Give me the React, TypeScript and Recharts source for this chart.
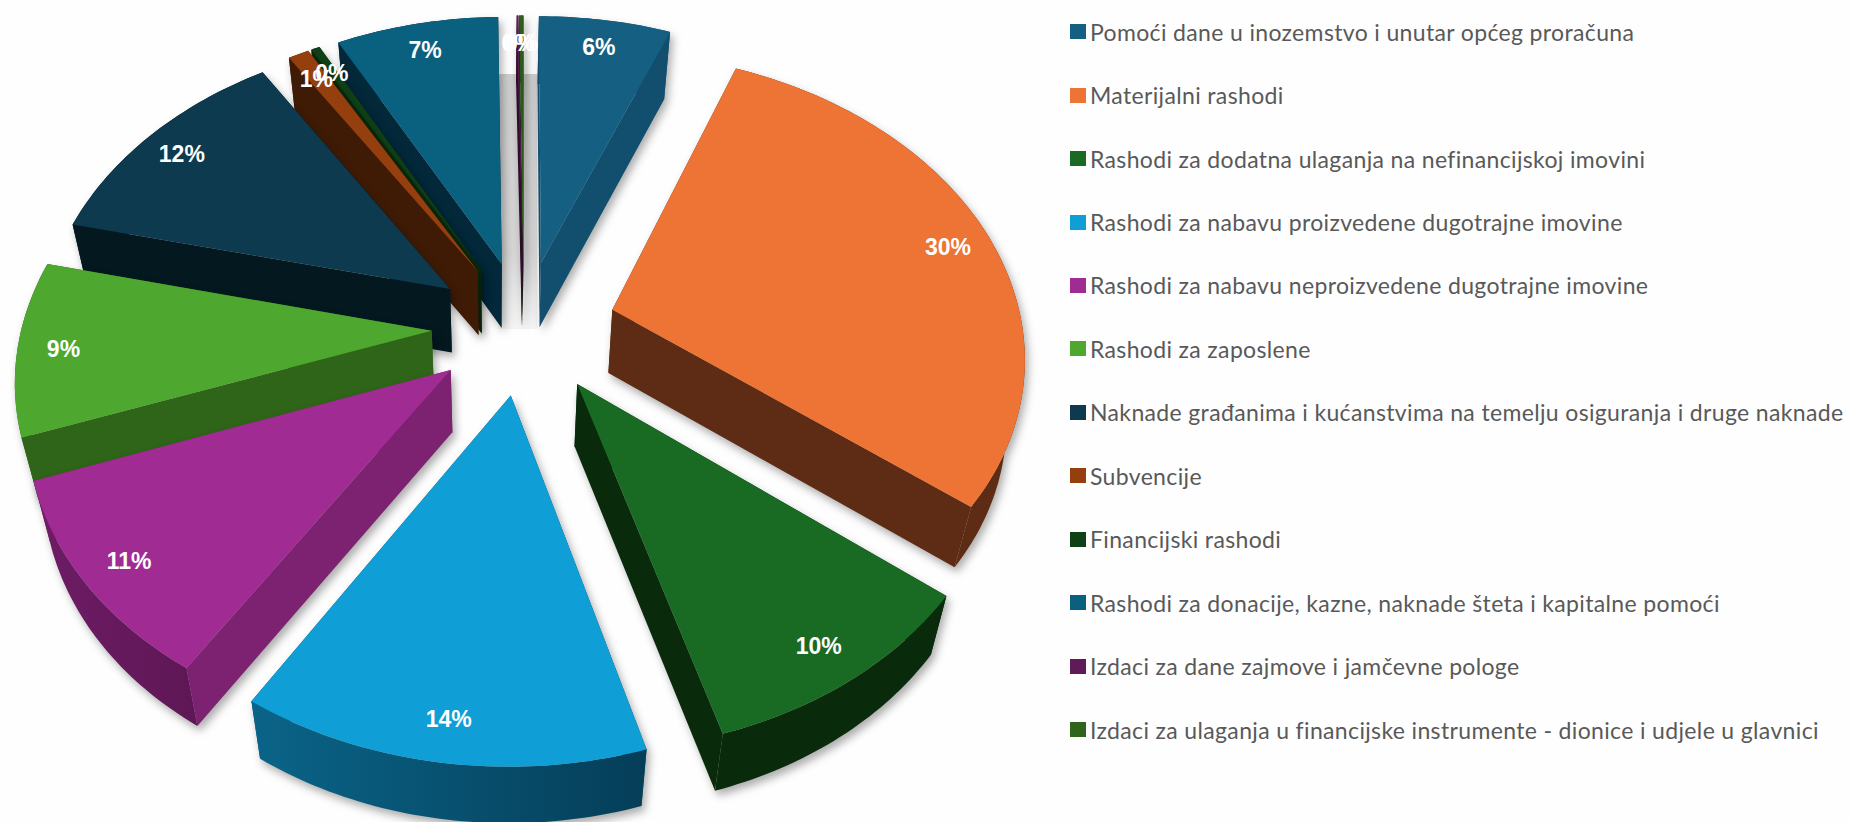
import React from "react";
import { PieChart, Pie, Legend } from "recharts";

const categories = [
  "Pomoći dane u inozemstvo i unutar općeg proračuna",
  "Materijalni rashodi",
  "Rashodi za dodatna ulaganja na nefinancijskoj imovini",
  "Rashodi za nabavu proizvedene dugotrajne imovine",
  "Rashodi za nabavu neproizvedene dugotrajne imovine",
  "Rashodi za zaposlene",
  "Naknade građanima i kućanstvima na temelju osiguranja i druge naknade",
  "Subvencije",
  "Financijski rashodi",
  "Rashodi za donacije, kazne, naknade šteta i kapitalne pomoći",
  "Izdaci za dane zajmove i jamčevne pologe",
  "Izdaci za ulaganja u financijske instrumente - dionice i udjele u glavnici",
];

// procjena s grafikona, postoci
const shares = [6.05, 29.5, 9.92, 13.5, 10.5, 9.24, 12.2, 0.96, 0.4, 7.45, 0.08, 0.2];

const topColors = ["#156082", "#ED7434", "#196B24", "#0F9ED5", "#A02B93", "#4EA72E", "#0D3A4E", "#953F0E", "#0F4016", "#09607F", "#601A58", "#2F641C"];
const sideColors = ["#124F6E", "#5E2B14", "#0A2A0C", "#06506F", "#7D2270", "#2F6518", "#041820", "#3F1B06", "#0A2A0C", "#02283A", "#2E0C2A", "#16300D"];
const rimFrom = ["#124F6E", "#5E2B14", "#0A2A0C", "#0A6488", "#6E1C66", "#2F6518", "#041820", "#3F1B06", "#0A2A0C", "#02283A", "#2E0C2A", "#16300D"];
const rimTo = ["#124F6E", "#5E2B14", "#0A2A0C", "#053E58", "#5E1755", "#2F6518", "#041820", "#3F1B06", "#0A2A0C", "#02283A", "#2E0C2A", "#16300D"];

const rows = categories.map((name, i) => ({
  name,
  value: shares[i],
  fill: topColors[i],
  side: sideColors[i],
  from: rimFrom[i],
  to: rimTo[i],
}));

// obrnuti redoslijed i smjer: kriške se crtaju od straga prema naprijed
const drawRows = [...rows].reverse();

const RAD = Math.PI / 180;
const EXPLODE = 0.225;
const TILT = 298 / 410;
const PERSPECTIVE = 0.14;

// perspektiva: izvučena kriška je cijela bliže ili dalje od gledatelja
function project(cx: number, cy: number, R: number, mid: number, angle: number, f = 1) {
  const X = EXPLODE * Math.cos(mid * RAD) + f * Math.cos(angle * RAD);
  const Y = EXPLODE * Math.sin(mid * RAD) + f * Math.sin(angle * RAD);
  const s = 1 / (1 + PERSPECTIVE * Y);
  return { x: cx + R * X * s, y: cy - TILT * R * Y * s };
}

function lower(p: { x: number; y: number }, cx: number) {
  const vx = cx - 24;
  return { x: vx + (p.x - vx) * 0.965, y: p.y * 0.985 + 68 };
}

const toPoints = (pts: { x: number; y: number }[]) =>
  pts.map((p) => `${p.x.toFixed(1)},${p.y.toFixed(1)}`).join(" ");

const Wedge3D = (props: any) => {
  const { cx, cy, outerRadius, startAngle, endAngle, midAngle, fill, side, from, to, name } = props;
  const arc: { x: number; y: number }[] = [];
  const steps = Math.max(2, Math.ceil(Math.abs(endAngle - startAngle)));
  for (let i = 0; i <= steps; i++) {
    const a = startAngle + ((endAngle - startAngle) * i) / steps;
    arc.push(project(cx, cy, outerRadius, midAngle, a));
  }
  const apex = project(cx, cy, outerRadius, midAngle, midAngle, 0);
  const apexLow = lower(apex, cx);
  const arcLow = arc.map((p) => lower(p, cx));
  const first = arc[0];
  const last = arc[arc.length - 1];
  const gradId = `rim-${categories.indexOf(name)}`;
  const isThin = name === categories[11];

  return (
    <g>
      <defs>
        <linearGradient id={gradId} x1="0" y1="0" x2="1" y2="0">
          <stop offset="0%" stopColor={from} />
          <stop offset="100%" stopColor={to} />
        </linearGradient>
        {isThin && (
          <linearGradient id="thin-shadow" x1="0" y1="0" x2="0" y2="1">
            <stop offset="0%" stopColor="#CDCDCD" />
            <stop offset="70%" stopColor="#D6D6D6" />
            <stop offset="100%" stopColor="#F4F4F4" />
          </linearGradient>
        )}
      </defs>
      {isThin && <rect x={apex.x - 25} y={apex.y - 188} width={39} height={255} fill="url(#thin-shadow)" />}
      <g style={{ filter: "drop-shadow(3px 5px 4px rgba(0,0,0,0.32))" }}>
        <polygon points={toPoints([apex, first, lower(first, cx), apexLow])} fill={side} />
        <polygon points={toPoints([apex, last, lower(last, cx), apexLow])} fill={side} />
        <polygon points={toPoints([...arc, ...[...arcLow].reverse()])} fill={`url(#${gradId})`} />
        <polygon points={toPoints([apex, ...arc])} fill={fill} />
      </g>
    </g>
  );
};

const renderLabel = (props: any) => {
  const { cx, cy, outerRadius, midAngle, percent } = props;
  const p = project(cx, cy, outerRadius, midAngle, midAngle, 0.89);
  return (
    <text
      x={p.x}
      y={p.y + 3}
      fill="#FFFFFF"
      textAnchor="middle"
      dominantBaseline="central"
      style={{ fontFamily: "Liberation Sans", fontWeight: 700, fontSize: 23 }}
    >
      {`${Math.round(percent * 100)}%`}
    </text>
  );
};

const LegendList = ({ payload }: any) => {
  const sorted = [...(payload ?? [])].sort(
    (a: any, b: any) => categories.indexOf(a.value) - categories.indexOf(b.value)
  );
  return (
    <div>
      {sorted.map((entry: any) => (
        <div key={entry.value} style={{ height: 63.45, display: "flex", alignItems: "center", whiteSpace: "nowrap" }}>
          <span style={{ width: 16, height: 15, marginRight: 4, background: entry.color, flex: "none" }} />
          <span style={{ fontFamily: "Lato", fontSize: 23, letterSpacing: 0.35, color: "#595959" }}>{entry.value}</span>
        </div>
      ))}
    </div>
  );
};

export default function App() {
  return (
    <div style={{ position: "absolute", left: 0, top: 0, width: 1850, height: 822, background: "#FEFEFE" }}>
      <PieChart width={1850} height={822} margin={{ top: 0, right: 0, bottom: 0, left: 0 }}>
        <Pie
          data={drawRows}
          dataKey="value"
          nameKey="name"
          cx={524}
          cy={327}
          outerRadius={410}
          startAngle={90}
          endAngle={450}
          stroke="none"
          shape={Wedge3D}
          label={renderLabel}
          labelLine={false}
          isAnimationActive={false}
        />
        <Legend
          layout="vertical"
          align="right"
          verticalAlign="top"
          content={<LegendList />}
          wrapperStyle={{ left: 1070, top: 0, width: 780 }}
        />
      </PieChart>
    </div>
  );
}
